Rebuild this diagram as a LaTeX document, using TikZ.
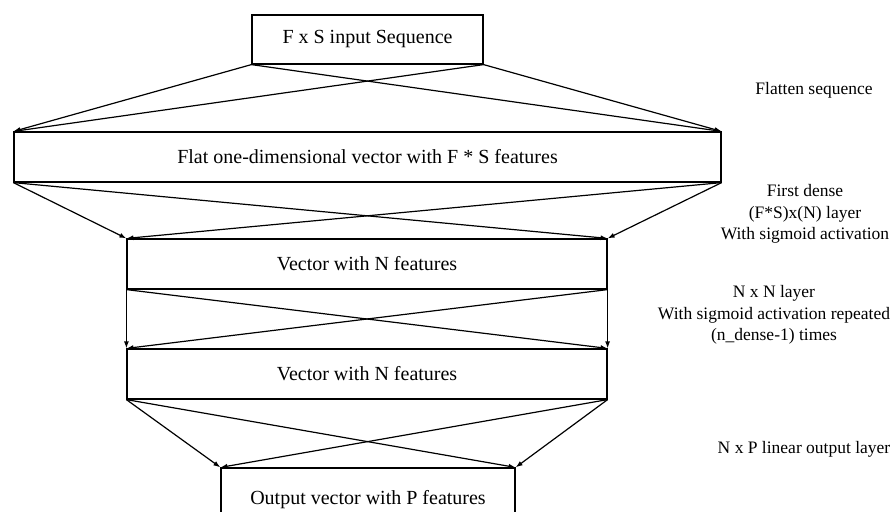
\documentclass[tikz,border=0pt]{standalone}
\usepackage{fontspec}
\setmainfont{Liberation Serif}
\usetikzlibrary{arrows.meta}

\begin{document}
\begin{tikzpicture}[x=1pt, y=-1pt]
  \tikzset{
    caja/.style={draw=black,fill=white,rectangle,inner sep=0pt,line width=1.2pt,
      font=\fontsize{20}{24}\selectfont},
    nota/.style={align=center,inner sep=0pt,font=\fontsize{17.5}{21.3}\selectfont},
    flecha/.style={draw=black,line width=1.2pt,-{Latex[length=7pt,width=5pt]}}
  }
  \useasboundingbox (0,0) rectangle (893,511);
  \node[caja,minimum width=231pt,minimum height=49pt] (ent) at (367.5,39.5) {F x S input Sequence};
  \node[caja,minimum width=707pt,minimum height=50pt] (plano) at (367.5,157) {Flat one-dimensional vector with F * S features};
  \node[caja,minimum width=480pt,minimum height=50pt] (v1) at (367,264) {Vector with N features};
  \node[caja,minimum width=480pt,minimum height=50pt] (v2) at (367,374) {Vector with N features};
  \node[caja,minimum width=294pt,minimum height=64pt] (sal) at (368,500) {Output vector with P features};
  \node[nota] (n1) at (814,90) {Flatten sequence};
  \node[nota] (n2) at (805,214) {First dense\\(F*S)x(N) layer\\With sigmoid activation};
  \node[nota] (n3) at (774,315) {N x N layer\\With sigmoid activation repeated\\(n\_dense-1) times};
  \node[nota] (n4) at (804,449) {N x P linear output layer};
  % flatten
  \draw[flecha] (ent.south west) -- (plano.north west);
  \draw[flecha] (ent.south west) -- (plano.north east);
  \draw[flecha] (ent.south east) -- (plano.north west);
  \draw[flecha] (ent.south east) -- (plano.north east);
  % first dense
  \draw[flecha] (plano.south west) -- (v1.north west);
  \draw[flecha] (plano.south west) -- (v1.north east);
  \draw[flecha] (plano.south east) -- (v1.north west);
  \draw[flecha] (plano.south east) -- (v1.north east);
  % N x N
  \draw[flecha] (v1.south west) -- (v2.north west);
  \draw[flecha] (v1.south west) -- (v2.north east);
  \draw[flecha] (v1.south east) -- (v2.north west);
  \draw[flecha] (v1.south east) -- (v2.north east);
  % output
  \draw[flecha] (v2.south west) -- (sal.north west);
  \draw[flecha] (v2.south west) -- (sal.north east);
  \draw[flecha] (v2.south east) -- (sal.north west);
  \draw[flecha] (v2.south east) -- (sal.north east);
\end{tikzpicture}
\end{document}
